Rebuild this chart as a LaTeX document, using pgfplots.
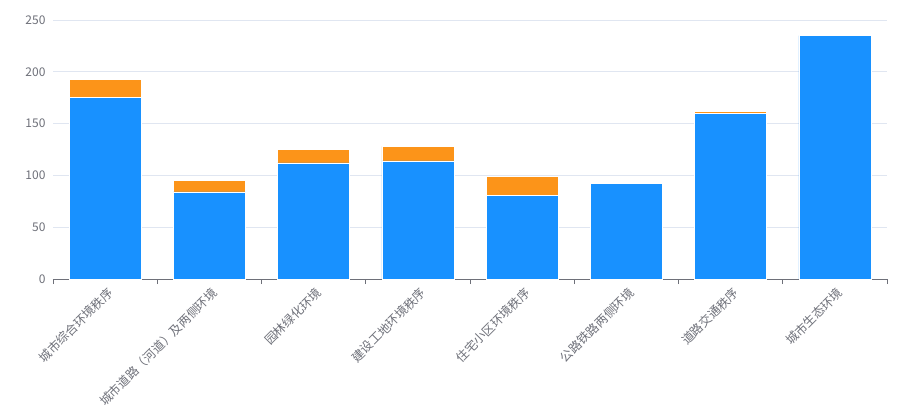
\documentclass[border=0pt]{standalone}
\usepackage{pgfplots}
\pgfplotsset{compat=1.18}
\usepackage{fontspec}
\setmainfont{Noto Sans CJK SC}
\definecolor{barblue}{HTML}{1891FF}
\definecolor{barorange}{HTML}{FC9419}
\definecolor{gridc}{HTML}{E0E6F1}
\definecolor{axisc}{HTML}{6E7079}
\begin{document}
\begin{tikzpicture}
\useasboundingbox (-53bp,-128bp) rectangle (865bp,279bp);
\begin{axis}[
  scale only axis, width=834bp, height=259bp,
  ybar stacked, bar width=72bp,
  xmin=-0.5, xmax=7.5, ymin=0, ymax=250,
  xtick={0,...,7},
  xticklabels={城市综合环境秩序,城市道路（河道）及两侧环境,园林绿化环境,建设工地环境秩序,住宅小区环境秩序,公路铁路两侧环境,道路交通秩序,城市生态环境},
  minor xtick={-0.5,0.5,...,7.5},
  ytick={0,50,...,250},
  axis x line*=bottom, axis y line*=left,
  y axis line style={draw=none},
  x axis line style={draw=axisc, line width=0.8bp},
  tick align=outside,
  major tick length=0pt, minor tick length=5bp,
  minor x tick style={draw=axisc, line width=0.8bp},
  ymajorgrids, grid style={draw=gridc, line width=0.8bp},
  /pgf/number format/assume math mode=true,
  yticklabel style={font=\fontsize{12bp}{14bp}\selectfont, text=axisc, xshift=-4bp},
  xticklabel style={font=\fontsize{12.3bp}{14bp}\selectfont, text=axisc, rotate=45, anchor=north east, inner sep=0pt, xshift=-4bp, yshift=-6bp},
  every axis plot/.append style={draw=white, line width=0.5bp},
]
\addplot[fill=barblue] coordinates {(0,175) (1,84) (2,112) (3,114) (4,81) (5,92) (6,160) (7,235)};
\addplot[fill=barorange] coordinates {(0,18) (1,11) (2,13) (3,14) (4,18) (5,0) (6,2) (7,0)};
\end{axis}
\end{tikzpicture}
\end{document}
